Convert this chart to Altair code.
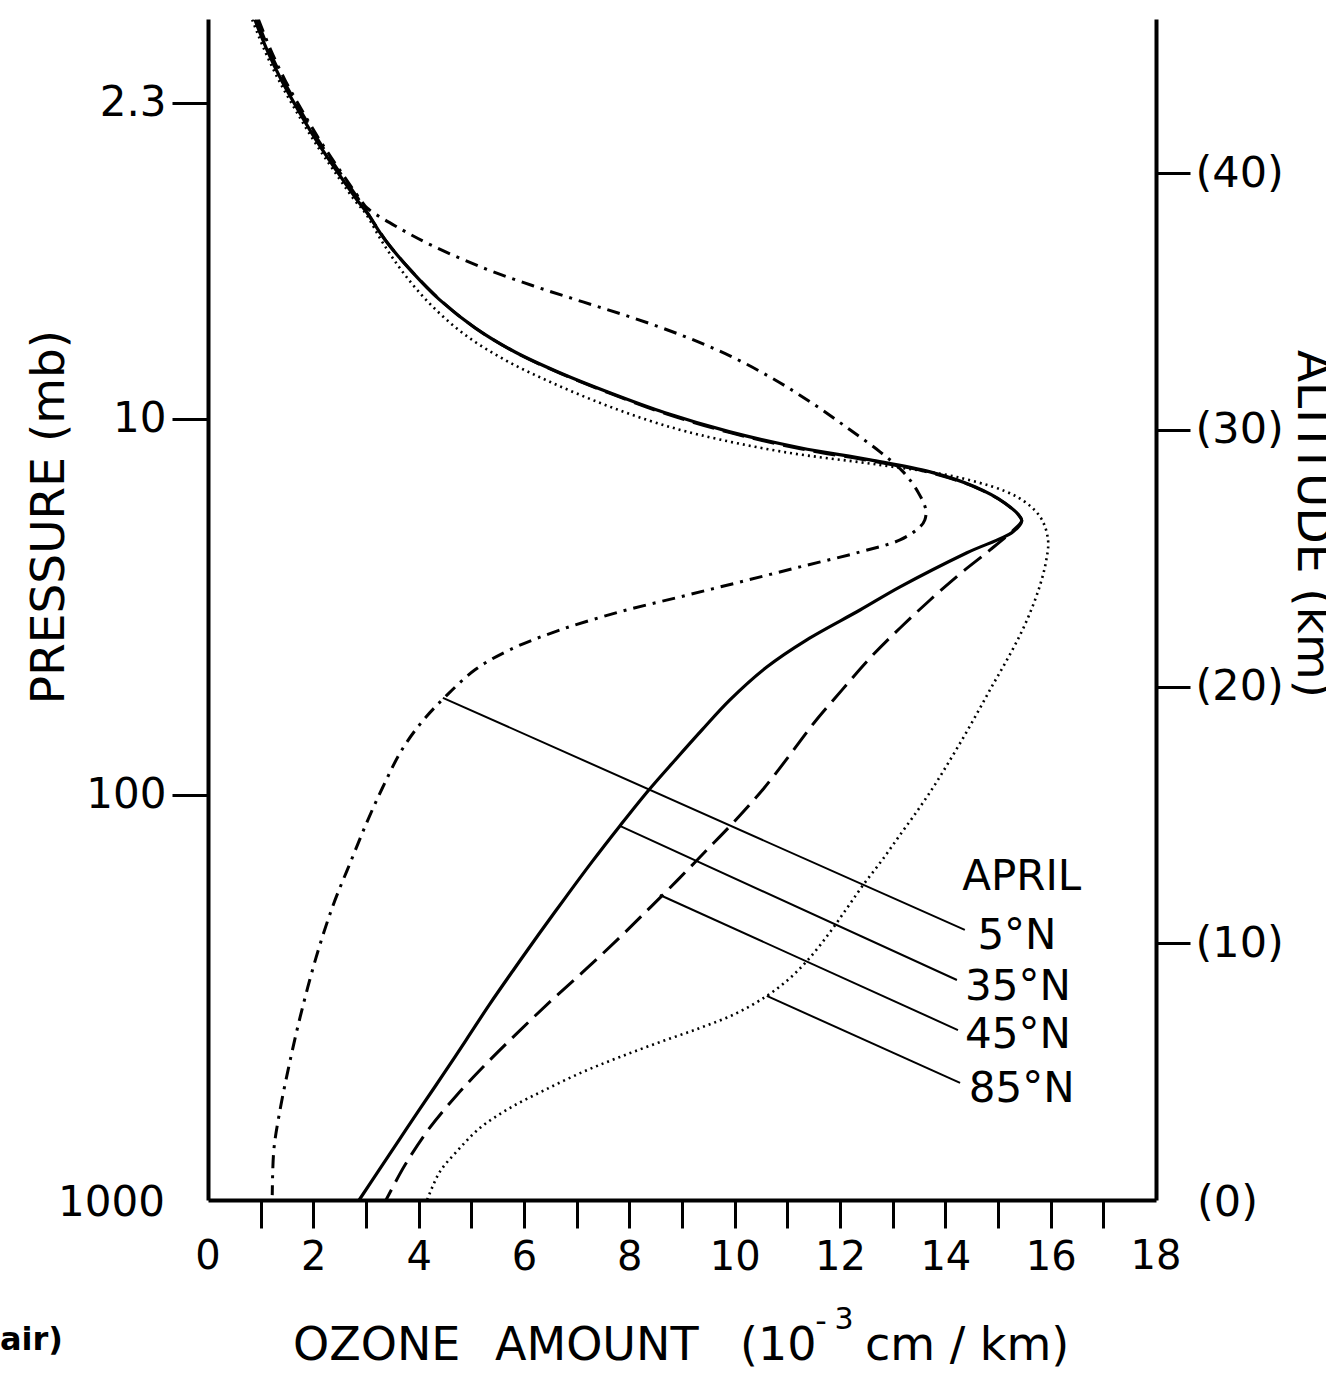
import altair as alt
import pandas as pd

FONT = "DejaVu Sans"

# ---------------- data (ozone in 1e-3 cm/km, altitude in km) ----------------
# upper branch, where the four profiles run together
upper_alt = [45.97, 44.80, 43.63, 42.46, 41.29, 40.12, 38.95]
upper5_oz = [0.96, 1.19, 1.46, 1.78, 2.12, 2.50, 2.90]
upper35_oz = [0.89, 1.12, 1.39, 1.71, 2.05, 2.43, 2.83]
upper45_oz = [0.93, 1.16, 1.43, 1.75, 2.09, 2.47, 2.87]
upper85_oz = [0.84, 1.07, 1.34, 1.66, 2.00, 2.38, 2.78]

n5_oz = [3.02, 3.65, 4.27, 5.22, 6.17, 7.12, 8.07, 9.02, 9.91, 10.77, 11.52, 12.19, 12.76,
         13.20, 13.48, 13.63, 13.61, 13.52, 13.14, 12.38, 11.24, 10.10, 8.96, 7.82, 6.68,
         5.73, 5.07, 4.50, 4.06, 3.68, 3.34, 3.02, 2.70, 2.37, 2.05, 1.75, 1.52, 1.35,
         1.25, 1.22]
n5_alt = [38.64, 37.83, 37.16, 36.31, 35.61, 34.98, 34.36, 33.66, 32.88, 31.94, 30.97,
          30.00, 29.14, 28.36, 27.58, 26.88, 26.49, 26.22, 25.71, 25.24, 24.66, 24.07,
          23.49, 22.91, 22.20, 21.43, 20.65, 19.59, 18.62, 17.53, 16.17, 14.73, 13.13,
          11.45, 9.43, 7.13, 5.06, 3.31, 1.95, 0.19]

n35_oz = [3.02, 3.36, 3.84, 4.40, 5.07, 5.83, 6.68, 7.63, 8.68, 9.91, 11.24, 12.57, 13.71,
          14.56, 15.13, 15.42, 15.45, 15.28, 14.41, 13.14, 12.38, 11.37, 10.61, 9.91, 9.38,
          8.87, 8.37, 7.82, 7.29, 6.78, 6.27, 5.80, 5.34, 4.90, 4.46, 4.01, 3.63, 3.25,
          2.87]
n35_alt = [38.45, 37.40, 36.23, 35.06, 33.97, 33.03, 32.22, 31.44, 30.66, 29.92, 29.30,
           28.83, 28.36, 27.78, 27.15, 26.61, 26.45, 26.02, 25.21, 23.88, 22.98, 21.82,
           20.76, 19.48, 18.31, 17.14, 15.97, 14.57, 13.17, 11.76, 10.32, 8.96, 7.60,
           6.23, 4.87, 3.51, 2.34, 1.17, 0.00]

n45_oz = [3.04, 3.38, 3.86, 4.43, 5.10, 5.86, 6.71, 7.66, 8.70, 9.93, 11.25, 12.58, 13.72,
          14.57, 15.13, 15.42, 15.45, 15.34, 14.85, 14.28, 13.71, 13.14, 12.57, 12.04,
          11.52, 11.05, 10.56, 10.02, 9.47, 8.92, 8.35, 7.77, 7.16, 6.53, 5.89, 5.28,
          4.71, 4.18, 3.74, 3.38]
n45_alt = [38.42, 37.36, 36.19, 35.02, 33.93, 32.99, 32.18, 31.40, 30.62, 29.88, 29.26,
           28.79, 28.33, 27.76, 27.14, 26.60, 26.45, 26.18, 25.32, 24.39, 23.37, 22.28,
           21.11, 19.87, 18.62, 17.34, 16.05, 14.80, 13.63, 12.47, 11.30, 10.13, 8.96,
           7.79, 6.54, 5.30, 4.05, 2.73, 1.36, 0.00]

n85_oz = [3.00, 3.32, 3.74, 4.25, 4.88, 5.64, 6.49, 7.44, 8.39, 9.34, 10.92, 12.76, 14.28,
          15.36, 15.80, 15.95, 15.91, 15.80, 15.63, 15.42, 15.17, 14.90, 14.64, 14.37,
          14.09, 13.80, 13.48, 13.14, 12.80, 12.44, 12.11, 11.77, 11.39, 11.01, 10.58,
          10.01, 9.34, 8.58, 7.82, 7.12, 6.40, 5.73, 5.16, 4.75, 4.40, 4.16]
n85_alt = [38.40, 37.28, 36.03, 34.83, 33.70, 32.72, 31.87, 31.05, 30.35, 29.80, 29.14,
           28.63, 28.13, 27.39, 26.61, 25.71, 24.85, 23.96, 22.98, 22.01, 21.04, 20.06,
           19.09, 18.11, 17.14, 16.17, 15.19, 14.22, 13.24, 12.27, 11.30, 10.32, 9.35,
           8.57, 7.91, 7.25, 6.70, 6.15, 5.57, 4.99, 4.29, 3.58, 2.80, 1.95, 1.09, 0.00]

series_names = ["5°N", "35°N", "45°N", "85°N"]

leader_start_oz = [4.46, 7.82, 8.58, 10.61]
leader_start_alt = [19.56, 14.57, 11.88, 7.95]
leader_end_oz = [14.37, 14.22, 14.24, 14.28]
leader_end_alt = [10.52, 8.57, 6.62, 4.56]

label_texts = ["APRIL", "5°N", "35°N", "45°N", "85°N"]
label_oz = [15.45, 15.36, 15.38, 15.38, 15.45]
label_alt = [12.60, 10.30, 8.31, 6.41, 4.34]

pressure_labels = ["2.3", "10", "100"]
pressure_alt = [42.73, 30.42, 15.78]
altitude_ticks = [10, 20, 30, 40]
ozone_ticks = list(range(1, 18))
ozone_end_labels = [0, 18]

# ---------------- tables ----------------
curves = {
    "5°N": (upper5_oz + n5_oz, upper_alt + n5_alt),
    "35°N": (upper35_oz + n35_oz, upper_alt + n35_alt),
    "45°N": (upper45_oz + n45_oz, upper_alt + n45_alt),
    "85°N": (upper85_oz + n85_oz, upper_alt + n85_alt),
}
styles = {
    "5°N": dict(strokeDash=[13, 7, 3, 7], strokeWidth=3),
    "35°N": dict(strokeWidth=3.2),
    "45°N": dict(strokeDash=[22, 9], strokeWidth=3),
    "85°N": dict(strokeDash=[2, 4], strokeWidth=2.6),
}

leaders = pd.DataFrame({
    "series": series_names,
    "oz": leader_start_oz, "alt": leader_start_alt,
    "oz2": leader_end_oz, "alt2": leader_end_alt,
})
labels = pd.DataFrame({"label": label_texts, "oz": label_oz, "alt": label_alt})
end_labels = pd.DataFrame({"oz": ozone_end_labels, "label": [str(v) for v in ozone_end_labels]})

# ---------------- scales / axes ----------------
xscale = alt.Scale(domain=[0, 18], nice=False, zero=False)
yscale = alt.Scale(domain=[0, 46], nice=False, zero=False)

common_axis = dict(title=None, grid=False, labelFont=FONT, labelColor="black",
                   tickColor="black", domainColor="black", domainWidth=4, tickWidth=3,
                   labelOverlap=False, labelFlush=False)

x_axis = alt.Axis(values=ozone_ticks,
                  labelExpr="datum.value % 2 == 0 ? datum.value : ''",
                  tickSize=28, labelFontSize=40, labelPadding=9, **common_axis)

pexpr = " : ".join(
    f"abs(datum.value - {a}) < 0.01 ? '{l}'" for a, l in zip(pressure_alt, pressure_labels)
) + " : ''"
yl_axis = alt.Axis(orient="left", values=pressure_alt, labelExpr=pexpr,
                   tickSize=36, labelFontSize=42, labelPadding=6, **common_axis)
yr_axis = alt.Axis(orient="right", values=altitude_ticks,
                   labelExpr="'(' + datum.value + ')'",
                   tickSize=34, labelFontSize=43, labelPadding=5, **common_axis)

x_enc = alt.X("oz:Q", scale=xscale, axis=x_axis)
yl_enc = alt.Y("alt:Q", scale=yscale, axis=yl_axis)
yr_enc = alt.Y("alt:Q", scale=yscale, axis=yr_axis)

# ---------------- layers ----------------
curve_layers = []
for name in series_names:
    oz, al = curves[name]
    df = pd.DataFrame({"oz": oz, "alt": al, "i": list(range(len(oz)))})
    curve_layers.append(
        alt.Chart(df).mark_line(color="black", interpolate="catmull-rom",
                                strokeCap="butt", **styles[name])
        .encode(x=x_enc, y=yl_enc, order="i:Q")
    )

label_layer = alt.Chart(labels).mark_text(font=FONT, fontSize=42, color="black",
                                          align="center", baseline="middle").encode(
    x=x_enc, y=yl_enc, text="label:N")

end_label_layer = alt.Chart(end_labels).mark_text(font=FONT, fontSize=40, color="black",
                                                  align="center", baseline="middle").encode(
    x=x_enc, y=alt.value(1238), text="label:N")


def txt(text, x, y, size, align="left", angle=0, weight="normal"):
    return alt.Chart(pd.DataFrame({"t": [text]})).mark_text(
        font=FONT, fontSize=size, color="black", align=align, baseline="middle",
        angle=angle, fontWeight=weight
    ).encode(x=alt.value(x), y=alt.value(y), text="t:N")


extra = [
    txt("1000", -43, 1184, 42, align="right"),
    txt("(0)", 989, 1184, 43),
    txt("OZONE", 85, 1327, 46),
    txt("AMOUNT", 287, 1327, 46),
    txt("(10", 532, 1327, 46),
    txt("-", 613, 1303, 32, align="center"),
    txt("3", 636, 1301, 30, align="center"),
    txt("cm / km)", 657, 1327, 46),
    txt("PRESSURE (mb)", -158, 498, 47, align="center", angle=270),
    txt("ALTITUDE (km)", 1104, 505, 47, align="center", angle=90),
    txt("air)", -208, 1321, 32, weight="bold"),
]

left_group = alt.layer(*curve_layers, label_layer, end_label_layer, *extra)

right_group = alt.Chart(leaders).mark_rule(color="black", strokeWidth=2).encode(
    x=x_enc, y=yr_enc, x2="oz2:Q", y2="alt2:Q")

chart = (
    alt.layer(left_group, right_group)
    .resolve_scale(y="independent")
    .properties(
        width=948, height=1181,
        padding={"left": 208, "top": 19, "right": 170, "bottom": 174},
        autosize=alt.AutoSizeParams(type="none"),
        background="white",
    )
    .configure_view(stroke=None)
)

chart.save("out.html", embed_options={"renderer": "svg", "actions": False})
